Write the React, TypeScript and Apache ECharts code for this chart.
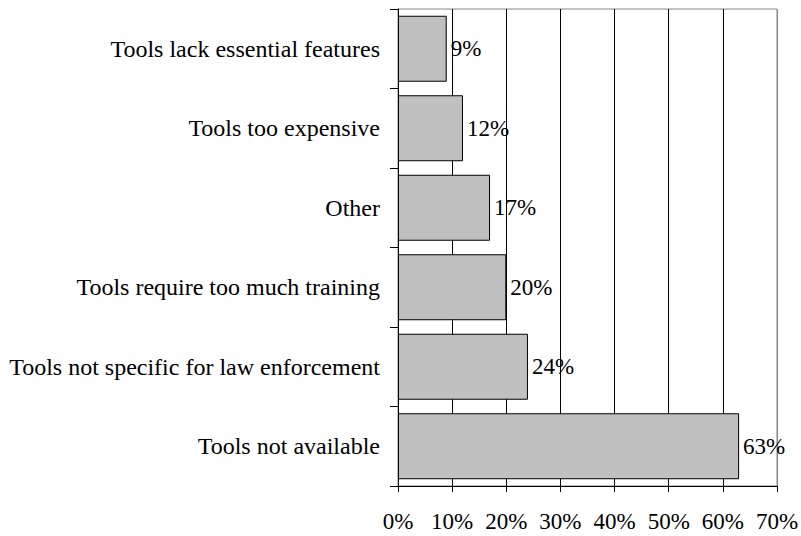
import React, { useEffect, useRef } from "react";
import * as echarts from "echarts";

const categories = [
  "Tools lack essential features",
  "Tools too expensive",
  "Other",
  "Tools require too much training",
  "Tools not specific for law enforcement",
  "Tools not available",
];
const values = [9, 12, 17, 20, 24, 63];
const xTickMin = 0;
const xTickMax = 70;
const xTickStep = 10;

const FONT = "'Liberation Serif', 'Times New Roman', serif";

export default function App() {
  const ref = useRef<HTMLDivElement>(null);
  useEffect(() => {
    if (!ref.current) return;
    const chart = echarts.init(ref.current, undefined, { renderer: "svg" });
    const splitColors: string[] = [];
    for (let v = xTickMin; v <= xTickMax; v += xTickStep) {
      splitColors.push(v === xTickMax ? "#888888" : "#000000");
    }
    chart.setOption({
      animation: false,
      backgroundColor: "#ffffff",
      textStyle: { fontFamily: FONT },
      grid: {
        left: 398,
        right: 24,
        top: 9,
        bottom: 50,
        containLabel: false,
        outerBoundsMode: "none",
        show: true,
        borderColor: "#888888",
        borderWidth: 1,
        backgroundColor: "transparent",
      },
      xAxis: {
        type: "value",
        min: xTickMin,
        max: xTickMax,
        interval: xTickStep,
        axisLine: { show: true, lineStyle: { color: "#000", width: 1 } },
        axisTick: { show: true, length: 6, lineStyle: { color: "#000" } },
        axisLabel: {
          formatter: "{value}%",
          color: "#000",
          fontFamily: FONT,
          fontSize: 23,
          margin: 24,
        },
        splitLine: { show: true, lineStyle: { color: splitColors, width: 1 } },
      },
      yAxis: {
        type: "category",
        data: categories,
        inverse: true,
        axisLine: { show: true, lineStyle: { color: "#000", width: 1 } },
        axisTick: { show: true, length: 8, lineStyle: { color: "#000" } },
        axisLabel: {
          color: "#000",
          fontFamily: FONT,
          fontSize: 24,
          margin: 18,
        },
        splitLine: { show: false },
      },
      series: [
        {
          type: "bar",
          data: values,
          barCategoryGap: "17%",
          itemStyle: { color: "#c0c0c0", borderColor: "#000", borderWidth: 1 },
          label: {
            show: true,
            position: "right",
            distance: 4,
            formatter: "{c}%",
            color: "#000",
            fontFamily: FONT,
            fontSize: 23,
          },
        },
      ],
    });
    return () => chart.dispose();
  }, []);
  return (
    <div
      ref={ref}
      style={{ position: "fixed", left: 0, top: 0, width: 801, height: 536 }}
    />
  );
}
